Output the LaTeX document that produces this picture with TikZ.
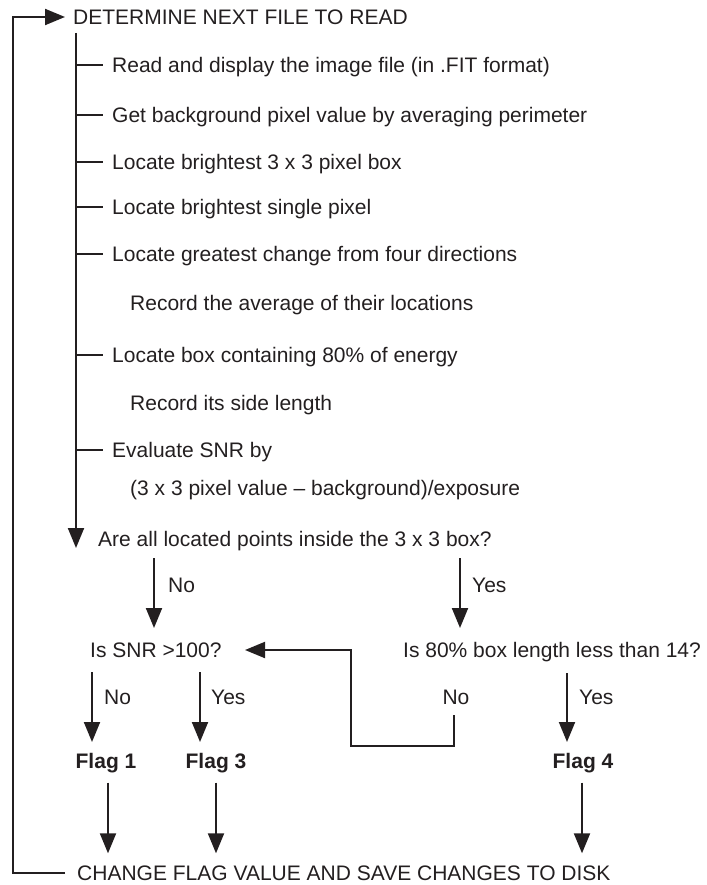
\documentclass[tikz,border=0pt]{standalone}
\usepackage{fontspec}
\setmainfont{Liberation Sans}
\usetikzlibrary{arrows.meta}
\definecolor{ink}{HTML}{231F20}
\begin{document}
\begin{tikzpicture}[x=1pt,y=-1pt,
  txt/.style={anchor=west, inner sep=0pt, text height=15pt, text depth=0pt, font=\fontsize{21}{25}\selectfont, text=ink},
  flag/.style={txt, anchor=center, font=\fontsize{21}{25}\selectfont\bfseries},
  ln/.style={draw=ink, line width=2pt},
  arr/.style={ln, -{Triangle[length=20pt,width=16pt]}},
]
\useasboundingbox (0,0) rectangle (706,885);
% texts
\node[txt] (det) at (73,17) {DETERMINE NEXT FILE TO READ};
\node[txt] (r1) at (112,65) {Read and display the image file (in .FIT format)};
\node[txt] (r2) at (112,115) {Get background pixel value by averaging perimeter};
\node[txt] (r3) at (112,162) {Locate brightest 3 x 3 pixel box};
\node[txt] (r4) at (112,207) {Locate brightest single pixel};
\node[txt] (r5) at (112,254) {Locate greatest change from four directions};
\node[txt] (r5b) at (130,303) {Record the average of their locations};
\node[txt] (r6) at (112,355) {Locate box containing 80\% of energy};
\node[txt] (r6b) at (130,403) {Record its side length};
\node[txt] (r7) at (112,450) {Evaluate SNR by};
\node[txt] (r7b) at (130,488) {(3 x 3 pixel value – background)/exposure};
\node[txt] (q1) at (98,539) {Are all located points inside the 3 x 3 box?};
\node[txt] (snr) at (90,650) {Is SNR >100?};
\node[txt] (len) at (403,650) {Is 80\% box length less than 14?};
\node[txt] (lno1) at (168,585) {No};
\node[txt] (lyes1) at (472,585) {Yes};
\node[txt] (lno2) at (104,697) {No};
\node[txt] (lyes2) at (211,697) {Yes};
\node[txt,anchor=center] (lno3) at (456,697) {No};
\node[txt] (lyes3) at (579,697) {Yes};
\node[flag] (f1) at (106,761) {Flag 1};
\node[flag] (f3) at (216,761) {Flag 3};
\node[flag] (f4) at (583,761) {Flag 4};
\node[txt] (chg) at (77,873) {CHANGE FLAG VALUE AND SAVE CHANGES TO DISK};
% spine
\coordinate (sTop) at (76,33);
\coordinate (sEnd) at (76,548);
\draw[arr] (sTop) -- (sEnd);
\foreach \n in {r1,r2,r3,r4,r5,r6,r7}{
  \draw[ln] (sTop |- \n.west) -- ([xshift=-9pt]\n.west);
}
% outer loop
\coordinate (oTL) at (13,17);
\draw[arr] ([xshift=-12pt]chg.west) -| (oTL) -- ([xshift=-8pt]det.west);
% decision arrows
\coordinate (a1s) at (154,558); \coordinate (a1e) at (154,628);
\coordinate (a2s) at (460,558); \coordinate (a2e) at (460,628);
\coordinate (a3s) at (92,672);  \coordinate (a3e) at (92,742);
\coordinate (a4s) at (200,672); \coordinate (a4e) at (200,742);
\coordinate (a5s) at (567,673); \coordinate (a5e) at (567,742);
\draw[arr] (a1s) -- (a1e);
\draw[arr] (a2s) -- (a2e);
\draw[arr] (a3s) -- (a3e);
\draw[arr] (a4s) -- (a4e);
\draw[arr] (a5s) -- (a5e);
% loop back to SNR
\coordinate (lpS) at (454,715);
\coordinate (lpB) at (351,746);
\coordinate (lpT) at (245,650);
\draw[arr] (lpS) |- (lpB) |- (lpT);
% flags to bottom
\draw[arr, shorten <=14pt, shorten >=12pt] ([xshift=2pt]f1.south) -- ([xshift=2pt]f1.south |- chg.north);
\draw[arr, shorten <=14pt, shorten >=12pt] (f3.south) -- (f3.south |- chg.north);
\draw[arr, shorten <=14pt, shorten >=12pt] ([xshift=-1pt]f4.south) -- ([xshift=-1pt]f4.south |- chg.north);
\end{tikzpicture}
\end{document}
